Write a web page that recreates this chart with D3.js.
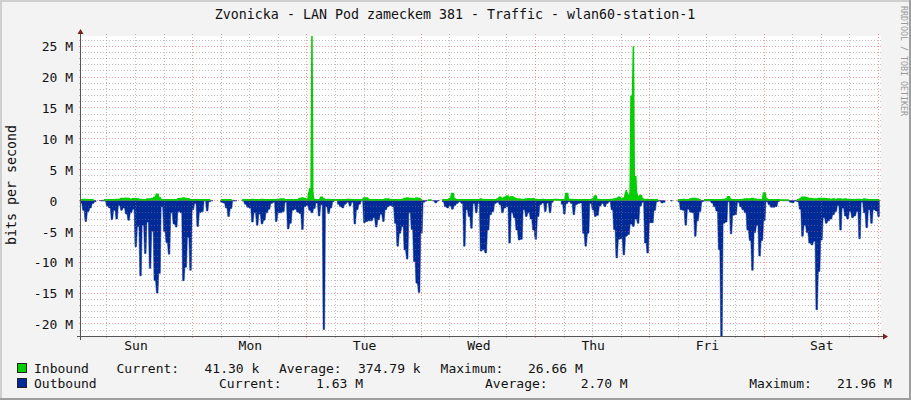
<!DOCTYPE html>
<html>
<head>
<meta charset="utf-8">
<script src="https://cdnjs.cloudflare.com/ajax/libs/d3/7.8.5/d3.min.js"></script>
<style>
  html, body { margin: 0; padding: 0; background: #f3f3f3; }
  svg { display: block; }
  text { font-family: 'DejaVu Sans Mono', monospace; font-size: 13px; fill: #111; white-space: pre; }
</style>
</head>
<body>
<script>
// values in Mbit/s, one sample every 30 minutes, null = no data
const inbound = [
  .1,.15,.15,.1,.1,.1,null,null,null,null,.1,.1,
  .1,.1,.1,.15,.15,.3,.3,.35,.3,.15,.25,.25,
  .2,.15,.1,.1,.2,.2,.3,.5,1,.4,.1,.1,
  .1,.1,.1,.1,.1,.25,.3,.4,.3,.25,.1,.1,
  .1,.1,.1,.1,.1,.1,.1,null,null,null,null,.1,
  .1,.1,.1,.1,null,null,null,null,.1,.1,.1,.1,
  .15,.1,.1,.1,.15,.1,.1,.1,.1,.1,.1,.15,
  .2,.2,.1,.1,.1,.1,.1,.1,.3,.4,.3,.1,
  2,26.66,.15,.1,.1,.5,.2,.1,.15,.1,.1,.1,
  .1,.1,.1,.1,.15,.15,.1,.1,.1,.1,.1,.4,
  .4,.15,.1,.1,.1,.1,.1,.1,.2,.2,.1,.1,
  .1,.1,.1,.15,.3,.4,.3,.3,.25,.4,.3,.1,
  null,null,.05,.05,null,null,null,null,.1,.1,.1,.3,
  1.1,.2,.1,.1,.1,.1,.1,.1,.1,.1,.1,.1,
  .2,.1,.1,.1,.1,.1,.1,.2,.5,.3,.5,.7,
  .5,.6,.4,.2,.2,.15,.15,.2,.25,.2,.25,.15,
  .1,.1,.15,.1,.1,.1,.1,.15,.15,.1,.1,.1,
  1.1,.15,.15,.1,.1,.1,.1,.1,.1,.1,.1,.2,
  .7,.1,.1,.1,.1,.1,.1,.15,.2,.3,.5,.2,
  .4,1.7,.8,17,25,4,.6,.8,.2,.1,.15,.1,
  .1,.1,.1,null,null,null,null,null,null,null,null,.1,
  .1,.15,.1,.1,.2,.3,.3,.2,.1,null,.1,.1,
  .1,.1,.1,.1,.1,.1,.15,.2,.6,.15,.1,.1,
  .1,.1,.15,.2,.2,.2,.3,.2,.15,.15,.1,1.2,
  .2,.1,.1,.1,.1,.1,.05,.05,.05,.05,null,null,
  null,.1,.2,.5,.5,.4,.3,.25,.2,.2,.3,.3,
  .3,.25,.2,.15,.2,.15,.2,.2,.15,.2,.15,.15,
  .1,.1,.15,.15,.1,.2,.15,.1,.1,.1,.1,.1
];

const outbound = [
  .4,1.6,3.4,1.8,1.2,.5,.2,null,.05,.1,.1,.9,
  1.2,3.1,1.6,3,.8,1.6,1.2,2.2,3.2,2,1.4,7.5,
  4.2,12.2,4,8.6,3.5,11,5,13,15,11.8,1,5,
  6.8,8.7,2,3.8,4.3,1.8,2,13,10.8,6,11.3,1.5,
  .5,4.2,2,1.8,.1,1.7,.2,.1,null,null,null,.3,
  .4,1.2,2.6,1.3,.1,.1,null,null,.1,.6,1.1,1.2,
  3.5,2,4,2.2,3.8,3.2,2,1.4,.5,.3,3.4,2,
  2,1.8,.3,4.6,3.7,1.6,1.4,1.9,2.1,4.7,1,.8,
  1.6,2,1.3,.4,2.5,.7,20.9,1,2.1,1.2,.2,null,
  .6,1,1.2,.6,.3,.9,.3,3.8,1.5,.6,.1,3.6,
  3.4,3.3,3.3,2.8,4.3,3.1,2.2,3.4,1.5,1,.8,1,
  3.7,7.4,5.3,4.2,8,9.5,2,4.7,9.9,13.4,14.9,5.3,
  .3,.1,null,null,.1,.4,.1,null,.2,1,1.2,.9,
  1.4,.8,.5,.2,.5,7.4,1.5,2.6,4.5,.5,2,.5,
  8.2,8,8.5,4.8,2.3,1.8,.5,.3,.7,2,1.2,1,
  6.9,2,2.8,4.8,6.4,6.3,1.5,2.6,2,3,4.8,6.3,
  2.6,.7,.4,1.8,.4,2,.3,null,null,null,.6,2.2,
  .5,.2,.5,2.3,.7,.5,.4,5.3,7.4,5.3,.5,1.5,
  2.6,2.4,.9,.5,1,.5,.2,1.5,4.7,9.3,6.3,6.2,
  8.8,5.8,5.5,3.8,4.2,3,3.7,.9,.3,6.9,8.5,3.6,
  3.6,1.6,.2,.1,.4,.3,null,null,.1,null,null,.2,
  1.5,1.6,4,1.4,1.9,2,5.8,3.3,1.8,.2,.1,.1,
  .1,.4,1,1.7,8,21.96,3.7,3.5,.2,5.4,2.4,2.3,
  .3,1,1.5,2,4.8,6.5,11.3,5.2,4,9,6.5,3.3,
  .2,.7,1.1,1.1,1,.2,null,.05,.05,.05,.3,.4,
  .1,.2,1.4,5.8,4,5.2,6.9,7.2,6.6,17.7,11.5,6.4,
  2.8,3.7,3.3,3,2.3,1.8,.8,4.8,1.2,2.5,3,1.8,
  2.8,2.5,1.8,6.2,.3,2,4.4,1.5,3.7,1.5,1.7,2.6
];

const dayLabels = ['Sun', 'Mon', 'Tue', 'Wed', 'Thu', 'Fri', 'Sat'];
const firstMidnight = 23.45;   // hours after the left edge of the graph
const yMajorTicks = [25, 20, 15, 10, 5, 0, -5, -10, -15, -20];
const yMinorTicks = d3.range(-21, 27).filter(d => d % 5 !== 0);

const inboundLegend = ['Inbound', 'Current:', '41.30 k', 'Average:', '374.79 k', 'Maximum:', '26.66 M'];
const outboundLegend = ['Outbound', 'Current:', '1.63 M', 'Average:', '2.70 M', 'Maximum:', '21.96 M'];

const title = 'Zvonicka - LAN Pod zameckem 381 - Traffic - wlan60-station-1';
const yLabel = 'bits per second';
const watermark = 'RRDTOOL / TOBI OETIKER';

const width = 911, height = 400;
const plot = { left: 81, right: 881, top: 36, bottom: 336 };
const colors = { in: '#00CF00', out: '#002A97', axis: '#555', arrow: '#7a1f1f' };

const x = d3.scaleLinear().domain([0, 168]).range([plot.left, plot.right]);
const y = d3.scaleLinear().domain([-21.96, 26.66]).range([plot.bottom, plot.top]);
const crisp = v => Math.floor(v) + 0.5;

const svg = d3.select('body').append('svg').attr('width', width).attr('height', height);

// 3D border of the rrdtool canvas
svg.append('rect').attr('width', width).attr('height', height).attr('fill', '#f3f3f3');
svg.append('path').attr('d', `M0 0H${width}V2H2V${height}H0Z`).attr('fill', '#cfcfcf');
svg.append('path').attr('d', `M${width} ${height}H0V${height - 2}H${width - 2}V0H${width}Z`).attr('fill', '#9e9e9e');

svg.append('rect')
  .attr('x', plot.left).attr('y', plot.top)
  .attr('width', plot.right - plot.left).attr('height', plot.bottom - plot.top)
  .attr('fill', '#fff');

// each sample keeps a short flat top, so tips and notches stay narrow
const sampleHours = 0.5;
const flatHours = 0.16;
const lineCap = 1.2;   // the thick green line follows the low values only, not the spikes
const toPoints = values => values.flatMap((v, i) => [
  { hour: i * sampleHours - flatHours, value: v },
  { hour: i * sampleHours + flatHours, value: v }
]);

const outArea = d3.area()
  .defined(d => d.value !== null)
  .x(d => x(d.hour))
  .y0(y(0))
  .y1(d => y(-d.value));
const inArea = d3.area()
  .defined(d => d.value !== null)
  .x(d => x(d.hour))
  .y0(y(0))
  .y1(d => y(d.value));
const inLine = d3.line()
  .defined(d => d.value !== null)
  .x(d => x(d.hour))
  .y(d => y(Math.min(d.value, lineCap)));

svg.append('path').datum(toPoints(outbound)).attr('d', outArea).attr('fill', colors.out)
  .attr('stroke', colors.out).attr('stroke-width', 0.5);
svg.append('path').datum(toPoints(inbound)).attr('d', inArea).attr('fill', colors.in);
svg.append('path').datum(toPoints(inbound)).attr('d', inLine).attr('fill', 'none')
  .attr('stroke', colors.in).attr('stroke-width', 1.8);

// grid goes over the marks, as rrdtool does it
const dayEdges = d3.range(0, 7).map(k => firstMidnight + k * 24);
const sixHours = d3.range(firstMidnight - 18, 168, 6).filter(h => h > 0 && !dayEdges.includes(h));

const grid = svg.append('g').attr('fill', 'none').attr('stroke-dasharray', '1,2');
const minorGrid = 'rgba(128,128,128,0.5)';
const majorGrid = 'rgba(240,70,70,0.55)';

grid.selectAll('.ymin').data(yMinorTicks).join('line').attr('class', 'ymin')
  .attr('x1', plot.left - 2).attr('x2', plot.right + 2)
  .attr('y1', d => crisp(y(d))).attr('y2', d => crisp(y(d)))
  .attr('stroke', minorGrid);
grid.selectAll('.xmin').data(sixHours).join('line').attr('class', 'xmin')
  .attr('y1', plot.top - 2).attr('y2', plot.bottom + 2)
  .attr('x1', d => crisp(x(d))).attr('x2', d => crisp(x(d)))
  .attr('stroke', minorGrid);
grid.selectAll('.ymaj').data(yMajorTicks).join('line').attr('class', 'ymaj')
  .attr('x1', plot.left - 2).attr('x2', plot.right + 2)
  .attr('y1', d => crisp(y(d))).attr('y2', d => crisp(y(d)))
  .attr('stroke', majorGrid);
grid.selectAll('.xmaj').data(dayEdges).join('line').attr('class', 'xmaj')
  .attr('y1', plot.top - 2).attr('y2', plot.bottom + 2)
  .attr('x1', d => crisp(x(d))).attr('x2', d => crisp(x(d)))
  .attr('stroke', majorGrid);

// axis lines and arrows
const axes = svg.append('g');
axes.append('line')
  .attr('x1', plot.left - 0.5).attr('x2', plot.left - 0.5)
  .attr('y1', plot.bottom + 4).attr('y2', plot.top - 4)
  .attr('stroke', colors.axis);
axes.append('line')
  .attr('x1', plot.left - 4).attr('x2', plot.right + 3)
  .attr('y1', plot.bottom + 0.5).attr('y2', plot.bottom + 0.5)
  .attr('stroke', colors.axis);
axes.append('path')
  .attr('d', `M${plot.left - 3.5} ${plot.top - 2}L${plot.left - 0.5} ${plot.top - 7}L${plot.left + 2.5} ${plot.top - 2}Z`)
  .attr('fill', colors.arrow);
axes.append('path')
  .attr('d', `M${plot.right + 2} ${plot.bottom - 2.5}L${plot.right + 7} ${plot.bottom + 0.5}L${plot.right + 2} ${plot.bottom + 3.5}Z`)
  .attr('fill', colors.arrow);

// tick labels through the d3 axes
const formatMega = d => d === 0 ? '0  ' : `${d} M`;
const yAxis = d3.axisLeft(y).tickValues(yMajorTicks).tickSize(0).tickPadding(0).tickFormat(formatMega);
svg.append('g').attr('transform', `translate(73,0)`).call(yAxis)
  .call(g => g.select('.domain').remove())
  .selectAll('text').attr('font-family', null).attr('dy', '0.36em');

const dayNoons = dayLabels.map((d, k) => firstMidnight - 12 + k * 24);
const xAxis = d3.axisBottom(x).tickValues(dayNoons).tickSize(0).tickPadding(0)
  .tickFormat((d, k) => dayLabels[k]);
svg.append('g').attr('transform', 'translate(0,341)').call(xAxis)
  .call(g => g.select('.domain').remove())
  .selectAll('text').attr('dy', '0.71em');
svg.selectAll('.tick text').style('font-size', '13px').style('font-family', "'DejaVu Sans Mono', monospace");

// titles
svg.append('text').attr('x', 455).attr('y', 19).attr('text-anchor', 'middle')
  .style('font-size', '13.3px').text(title);
svg.append('text').attr('transform', 'translate(15.5,185) rotate(-90)').attr('text-anchor', 'middle')
  .style('font-size', '13.3px').text(yLabel);
svg.append('text').attr('transform', 'translate(900.5,6) rotate(90)')
  .style('font-size', '8.3px').style('fill', '#999').text(watermark);

// legend
const legendRows = [
  { y: 373, color: colors.in, items: inboundLegend, columns: [34, 116.5, 204.5, 279, 358, 440.6, 528] },
  { y: 388, color: colors.out, items: outboundLegend, columns: [34, 219, 316, 485, 580.7, 749.3, 837] }
];
legendRows.forEach(row => {
  svg.append('rect')
    .attr('x', 17.5).attr('y', row.y - 9.5).attr('width', 9).attr('height', 9)
    .attr('fill', row.color).attr('stroke', '#222');
  svg.append('g').selectAll('text')
    .data(row.items)
    .join('text')
    .attr('x', (d, i) => row.columns[i])
    .attr('y', row.y)
    .text(d => d);
});
</script>
</body>
</html>
